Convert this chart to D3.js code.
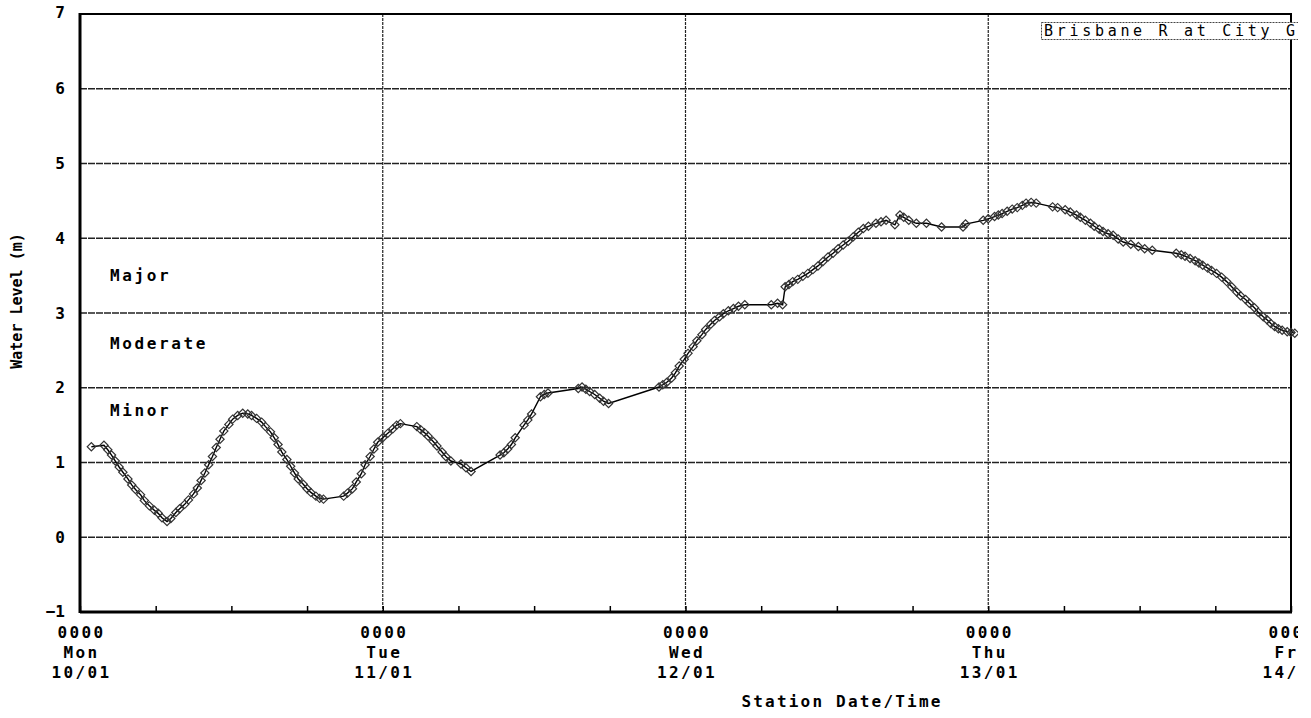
<!DOCTYPE html>
<html>
<head>
<meta charset="utf-8">
<script src="https://cdn.jsdelivr.net/npm/d3@7"></script>
<style>
  body { margin: 0; background: #fff; }
  svg { display: block; }
  text { font-family: "DejaVu Sans Mono", monospace; fill: #000; }
</style>
</head>
<body>
<div id="chart"></div>
<script>
// station readings, hours after 0000 Mon 10/01/2011
var hours = [
  0.9, 1.9, 2.2, 2.5, 2.8, 3.1, 3.4, 3.8, 4.1, 4.4, 4.8, 5.1, 5.5, 5.9, 6.2, 6.5, 6.9,
  7.2, 7.6, 7.9, 8.3, 8.6, 9.0, 9.3, 9.6, 9.9, 10.2, 10.5, 10.8, 11.1, 11.4, 11.8, 12.1,
  12.5, 12.9, 13.3, 13.6, 14.0, 14.4, 14.7, 15.1, 15.4, 15.7, 16.0, 16.4, 16.7, 17.0,
  17.3, 17.7, 18.0, 18.3, 18.7, 19.0, 19.3, 20.9, 21.2, 21.6, 21.9, 22.3, 22.6, 23.0,
  23.3, 23.6, 24.0, 24.4, 24.8, 25.1, 25.4, 26.7, 27.0, 27.3, 27.6, 28.0, 28.3, 28.7,
  29.0, 29.4, 30.2, 30.6, 31.0, 33.3, 33.6, 33.9, 34.2, 34.5, 35.2, 35.5, 35.8, 36.5,
  36.8, 37.1, 39.5, 39.8, 40.1, 40.4, 40.8, 41.2, 41.5, 41.9, 45.9, 46.2, 46.5, 46.9,
  47.2, 47.5, 47.9, 48.2, 48.6, 48.9, 49.3, 49.6, 50.0, 50.3, 50.7, 51.0, 51.4, 51.8,
  52.2, 52.7, 54.8, 55.3, 55.7, 55.9, 56.2, 56.5, 56.9, 57.3, 57.7, 58.1, 58.5, 58.9,
  59.3, 59.7, 60.1, 60.5, 60.9, 61.3, 61.7, 62.1, 62.5, 63.1, 63.5, 63.9, 64.6, 65.0,
  65.3, 65.7, 66.3, 67.1, 68.3, 70.0, 70.2, 71.6, 72.0, 72.5, 72.8, 73.1, 73.5, 73.9,
  74.3, 74.7, 75.0, 75.4, 75.8, 77.1, 77.5, 78.1, 78.5, 79.0, 79.3, 79.7, 80.1, 80.4,
  80.8, 81.1, 81.5, 81.9, 82.3, 82.7, 83.3, 83.9, 84.4, 85.0, 86.9, 87.3, 87.6, 88.0,
  88.4, 88.7, 89.0, 89.4, 89.7, 90.1, 90.5, 90.9, 91.3, 91.7, 92.0, 92.4, 92.7, 93.1,
  93.4, 93.8, 94.1, 94.4, 94.7, 95.0, 95.3, 95.7, 96.0, 96.3
];
var levels = [
  1.21, 1.23, 1.17, 1.10, 1.02, 0.94, 0.87, 0.78, 0.70, 0.64, 0.57, 0.49, 0.42, 0.36, 0.32, 0.26, 0.21,
  0.25, 0.33, 0.38, 0.44, 0.50, 0.58, 0.66, 0.76, 0.86, 0.97, 1.08, 1.20, 1.31, 1.42, 1.51, 1.58,
  1.63, 1.66, 1.65, 1.63, 1.59, 1.54, 1.48, 1.41, 1.33, 1.24, 1.14, 1.04, 0.95, 0.86,
  0.78, 0.71, 0.65, 0.60, 0.55, 0.52, 0.51, 0.55, 0.59, 0.65, 0.74, 0.85, 0.97, 1.08,
  1.18, 1.27, 1.33, 1.39, 1.45, 1.50, 1.52, 1.48, 1.44, 1.40, 1.35, 1.28, 1.22, 1.14,
  1.08, 1.02, 0.98, 0.93, 0.88, 1.10, 1.13, 1.18, 1.24, 1.33, 1.50, 1.57, 1.65, 1.88,
  1.91, 1.93, 1.99, 2.01, 1.98, 1.95, 1.91, 1.86, 1.82, 1.79, 2.01, 2.04, 2.07, 2.13,
  2.20, 2.29, 2.38, 2.46, 2.55, 2.63, 2.71, 2.78, 2.85, 2.90, 2.95, 2.99, 3.03, 3.06,
  3.09, 3.11, 3.11, 3.13, 3.11, 3.35, 3.38, 3.42, 3.45, 3.49, 3.53, 3.58, 3.63, 3.69,
  3.75, 3.80, 3.86, 3.91, 3.96, 4.02, 4.08, 4.13, 4.16, 4.20, 4.22, 4.24, 4.18, 4.31,
  4.28, 4.24, 4.20, 4.20, 4.15, 4.15, 4.19, 4.24, 4.26, 4.29, 4.31, 4.33, 4.36, 4.39,
  4.41, 4.44, 4.47, 4.48, 4.47, 4.42, 4.41, 4.38, 4.35, 4.31, 4.28, 4.24, 4.20, 4.16,
  4.12, 4.09, 4.06, 4.04, 3.99, 3.95, 3.92, 3.89, 3.86, 3.84, 3.80, 3.78, 3.76, 3.73,
  3.70, 3.67, 3.64, 3.60, 3.57, 3.53, 3.48, 3.42, 3.35, 3.28, 3.23, 3.18, 3.13, 3.07,
  3.01, 2.95, 2.91, 2.86, 2.82, 2.79, 2.77, 2.75, 2.74, 2.73
];

// flood classification levels (m)
var floodNames = ["Major", "Moderate", "Minor"];
var floodLevels = [3.5, 2.6, 1.7];

var yTicks = [-1, 0, 1, 2, 3, 4, 5, 6, 7];
var yGrid = [0, 1, 2, 3, 4, 5, 6];
var stationName = "Brisbane R at City Gauge";

var startDate = new Date(2011, 0, 10);
var endDate = new Date(2011, 0, 14);

var W = 1311, H = 718;
// note: "top" is taken by window.top, so use other names
var plotL = 80, plotR = 1291, plotT = 14, plotB = 612;

var data = hours.map(function(h, i){
  return { t: new Date(startDate.getTime() + h * 3600000), v: levels[i] };
});

var svg = d3.select("#chart")
  .append("svg")
    .attr("width", W)
    .attr("height", H);

svg.append("clipPath")
  .attr("id", "pageclip")
  .append("rect")
    .attr("x", 0)
    .attr("y", 0)
    .attr("width", 1298)
    .attr("height", H);

var g = svg.append("g").attr("clip-path", "url(#pageclip)");

var x = d3.scaleTime().domain([startDate, endDate]).range([plotL, plotR]);
var y = d3.scaleLinear().domain([-1, 7]).range([plotB, plotT]);

// grid
g.append("g")
  .selectAll("line").data(yGrid)
  .enter().append("line")
    .attr("x1", plotL).attr("x2", plotR)
    .attr("y1", d => y(d)).attr("y2", d => y(d))
    .attr("stroke", "#222")
    .attr("stroke-width", 1.3)
    .attr("stroke-dasharray", "7,1");

var days = d3.timeDay.range(d3.timeDay.offset(startDate, 1), endDate);
g.append("g")
  .selectAll("line").data(days)
  .enter().append("line")
    .attr("x1", d => x(d)).attr("x2", d => x(d))
    .attr("y1", plotT).attr("y2", plotB)
    .attr("stroke", "#222")
    .attr("stroke-width", 1.2)
    .attr("stroke-dasharray", "3,1");

// 6 hourly ticks on the bottom
var minorAxis = d3.axisBottom(x)
  .ticks(d3.timeHour.every(6))
  .tickSize(-6)
  .tickFormat("");
g.append("g")
  .attr("transform", "translate(0," + plotB + ")")
  .call(minorAxis)
  .call(a => a.select(".domain").remove())
  .selectAll("line").attr("stroke", "#000").attr("stroke-width", 1.5);

// frame
g.append("rect")
  .attr("x", plotL).attr("y", plotT)
  .attr("width", plotR - plotL).attr("height", plotB - plotT)
  .attr("fill", "none")
  .attr("stroke", "#000")
  .attr("stroke-width", 2);
g.append("line") // thicker left and bottom edges
  .attr("x1", plotL).attr("x2", plotL).attr("y1", plotT - 1).attr("y2", plotB + 1)
  .attr("stroke", "#000").attr("stroke-width", 3);
g.append("line")
  .attr("x1", plotL).attr("x2", plotR + 1).attr("y1", plotB).attr("y2", plotB)
  .attr("stroke", "#000").attr("stroke-width", 3);

// y axis labels
var yAxis = d3.axisLeft(y).tickValues(yTicks).tickSize(0).tickPadding(15).tickFormat(d3.format("d"));
var ya = g.append("g")
  .attr("transform", "translate(" + plotL + ",0)")
  .call(yAxis);
ya.select(".domain").remove();
ya.selectAll("text")
  .style("font-family", "DejaVu Sans Mono")
  .style("font-weight", "bold")
  .style("font-size", "16px")
  .attr("fill", "#000");
ya.selectAll(".tick").filter(d => d === -1).select("text").attr("dy", "0.3em");
ya.selectAll(".tick").filter(d => d === 7).select("text").attr("dy", "0.2em");

// x axis day labels, three lines each
var xAxis = d3.axisBottom(x).ticks(d3.timeDay.every(1)).tickSize(0).tickFormat("");
var xa = g.append("g")
  .attr("transform", "translate(0," + plotB + ")")
  .call(xAxis);
xa.select(".domain").remove();
var fmtTime = d3.timeFormat("%H%M"), fmtDay = d3.timeFormat("%a"), fmtDate = d3.timeFormat("%d/%m");
xa.selectAll(".tick").each(function(d){
  var t = d3.select(this).append("text")
    .attr("text-anchor", "middle")
    .style("font-weight", "bold")
    .style("font-size", "16px")
    .style("letter-spacing", "2.4px")
    .attr("fill", "#000");
  var rows = [fmtTime(d), fmtDay(d), fmtDate(d)];
  rows.forEach(function(r, i){
    t.append("tspan").attr("x", 1).attr("y", 26 + i * 20).text(r);
  });
});

// flood class labels
g.append("g")
  .selectAll("text").data(floodNames)
  .enter().append("text")
    .attr("x", 110)
    .attr("y", (d, i) => y(floodLevels[i]))
    .attr("dy", "0.35em")
    .style("font-size", "16px")
    .style("font-weight", "bold")
    .style("letter-spacing", "2.6px")
    .text(d => d);

// axis titles
g.append("text")
  .attr("transform", "translate(22,301) rotate(-90)")
  .attr("text-anchor", "middle")
  .style("font-weight", "bold")
  .style("font-size", "15px")
  .text("Water Level (m)");

g.append("text")
  .attr("x", 842)
  .attr("y", 707)
  .attr("text-anchor", "middle")
  .style("font-weight", "bold")
  .style("font-size", "16px")
  .style("letter-spacing", "2.2px")
  .text("Station Date/Time");

// station legend box
g.append("rect")
  .attr("x", 1041.5).attr("y", 22.5)
  .attr("width", 300).attr("height", 17)
  .attr("fill", "#fff")
  .attr("stroke", "#444")
  .attr("stroke-dasharray", "2,1");
g.append("text")
  .attr("x", 1044)
  .attr("y", 36)
  .style("font-size", "15px")
  .style("letter-spacing", "3.7px")
  .attr("fill", "#222")
  .text(stationName);

// series
var line = d3.line()
  .x(d => x(d.t))
  .y(d => y(d.v));
g.append("path")
  .datum(data)
  .attr("fill", "none")
  .attr("stroke", "#000")
  .attr("stroke-width", 1.4)
  .attr("d", line);

var diamond = d3.symbol().type(d3.symbolSquare).size(34);
g.append("g")
  .selectAll("path").data(data)
  .enter().append("path")
    .attr("d", diamond)
    .attr("transform", d => "translate(" + x(d.t) + "," + y(d.v) + ") rotate(45)")
    .attr("fill", "none")
    .attr("stroke", "#333")
    .attr("stroke-width", 1.2);
</script>
</body>
</html>
